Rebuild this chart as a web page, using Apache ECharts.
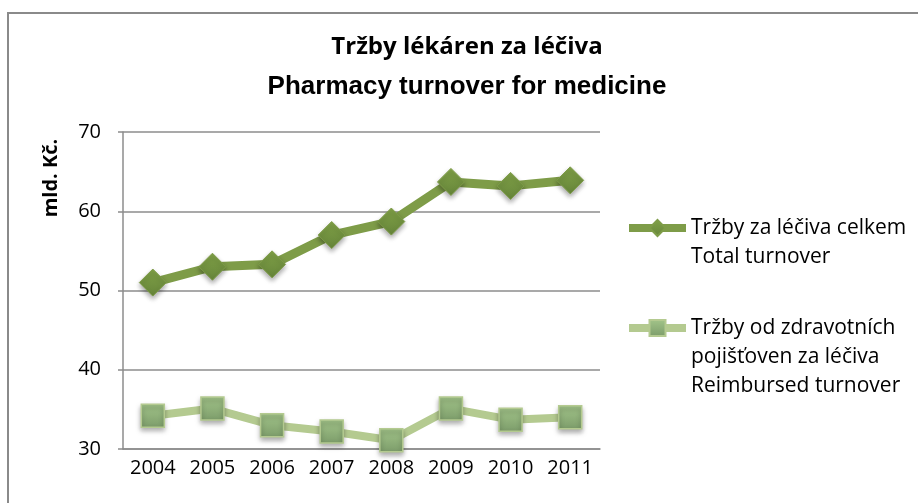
<!DOCTYPE html>
<html>
<head>
<meta charset="utf-8">
<script src="https://cdn.jsdelivr.net/npm/echarts@6/dist/echarts.min.js"></script>
<style>
  html, body { margin: 0; padding: 0; background: #fff; }
  #chart { width: 918px; height: 503px; }
</style>
</head>
<body>
<div id="chart"></div>
<script>
// data
const years = ['2004', '2005', '2006', '2007', '2008', '2009', '2010', '2011']
const totalTurnover = [51.0, 53.0, 53.3, 57.0, 58.7, 63.7, 63.2, 63.9]
const reimbursedTurnover = [34.2, 35.1, 33.0, 32.2, 31.1, 35.1, 33.7, 34.0]
const totalName = 'Tržby za léčiva celkem\nTotal turnover'
const reimbursedName = 'Tržby od zdravotních\npojišťoven za léčiva\nReimbursed turnover'

const chart = echarts.init(document.getElementById('chart'))
const font = 'Open Sans'
const lh = 29

// blank lines on top so the first text line sits next to the icon
const padTop = name => {
    const n = name.split('\n').length
    return '\n'.repeat(n - 1) + name
}

const legendBase = {
    orient: 'vertical',
    left: 625,
    padding: 0,
    itemWidth: 57,
    itemHeight: 20,
    formatter: padTop,
    lineStyle: { width: 8 },
    textStyle: { fontFamily: font, fontSize: 21, lineHeight: lh, color: '#000' }
}

const option = {
    animation: false,
    title: {
        left: 467,
        top: 28,
        textAlign: 'center',
        padding: 0,
        text: '{a|Tržby lékáren za léčiva}\n{b|Pharmacy turnover for medicine}',
        textStyle: {
            rich: {
                a: { fontFamily: font, fontWeight: 'bold', fontSize: 24, lineHeight: 38, color: '#000' },
                b: { fontFamily: 'Liberation Sans', fontWeight: 'bold', fontSize: 26, lineHeight: 41, color: '#000' }
            }
        }
    },
    graphic: [
        {
            type: 'rect',
            shape: { x: 8, y: 13, width: 920, height: 500 },
            style: { fill: 'none', stroke: '#8a8a8a', lineWidth: 2 }
        },
        {
            type: 'text',
            x: 51, y: 178,
            rotation: Math.PI / 2,
            style: {
                text: 'mld. Kč.',
                font: 'bold 20px "Open Sans"',
                fill: '#000',
                align: 'center',
                verticalAlign: 'middle'
            }
        }
    ],
    legend: [
        Object.assign({}, legendBase, {
            top: 228 - 3 * lh / 2,
            data: [totalName]
        }),
        Object.assign({}, legendBase, {
            top: 328 - 5 * lh / 2,
            data: [reimbursedName]
        })
    ],
    grid: { left: 123, right: 318, top: 132, bottom: 54 },
    xAxis: {
        type: 'category',
        data: years,
        boundaryGap: true,
        axisLine: { lineStyle: { color: '#8c8c8c', width: 1.5 } },
        axisTick: { show: false },
        axisLabel: { fontFamily: font, fontSize: 20, color: '#000', margin: 9 }
    },
    yAxis: {
        type: 'value',
        min: 30,
        max: 70,
        interval: 10,
        axisLine: { show: true, lineStyle: { color: '#8c8c8c', width: 1.5 } },
        axisTick: { show: true, length: 5, lineStyle: { color: '#8c8c8c', width: 1.5 } },
        splitLine: { lineStyle: { color: '#8c8c8c', width: 1.5 } },
        axisLabel: { fontFamily: font, fontSize: 20, color: '#000', margin: 22 }
    },
    series: [
        {
            name: totalName,
            type: 'line',
            data: totalTurnover,
            symbol: 'diamond',
            symbolSize: 27,
            lineStyle: { color: '#7e9c48', width: 9 },
            itemStyle: {
                color: new echarts.graphic.LinearGradient(0, 0, 0, 1, [
                    { offset: 0, color: '#80a147' },
                    { offset: 1, color: '#66853a' }
                ]),
                borderColor: '#7e9c48',
                borderWidth: 1,
                shadowBlur: 5,
                shadowColor: 'rgba(0,0,0,0.35)',
                shadowOffsetY: 3
            },
            z: 3
        },
        {
            name: reimbursedName,
            type: 'line',
            data: reimbursedTurnover,
            symbol: 'rect',
            symbolSize: 23,
            lineStyle: { color: '#b4ca90', width: 8 },
            itemStyle: {
                color: new echarts.graphic.LinearGradient(0, 0, 0, 1, [
                    { offset: 0, color: '#a3c58a' },
                    { offset: 1, color: '#7c9c6a' }
                ]),
                borderColor: '#b4ca90',
                borderWidth: 1.5,
                shadowBlur: 5,
                shadowColor: 'rgba(0,0,0,0.35)',
                shadowOffsetY: 3
            },
            z: 2
        }
    ]
}

chart.setOption(option)
</script>
</body>
</html>
